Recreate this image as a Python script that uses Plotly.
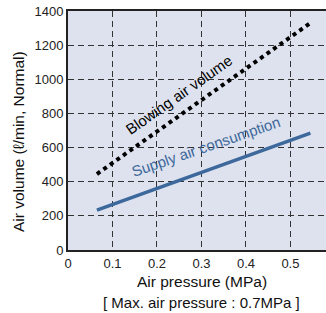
import plotly.graph_objects as go

pressure = [0.065, 0.545]
blowing_air_volume = [445, 1330]
supply_air_consumption = [234, 685]

x_ticks = [0, 0.1, 0.2, 0.3, 0.4, 0.5]
x_tick_labels = ["0", "0.1", "0.2", "0.3", "0.4", "0.5"]
y_ticks = [0, 200, 400, 600, 800, 1000, 1200, 1400]

blue = "#3d689b"
font = "Liberation Sans, Arial, sans-serif"

fig = go.Figure()
fig.add_trace(go.Scatter(x=pressure, y=blowing_air_volume, mode="lines",
                         line=dict(color="black", width=4, dash="dot"), showlegend=False))
fig.add_trace(go.Scatter(x=pressure, y=supply_air_consumption, mode="lines",
                         line=dict(color=blue, width=3.5), showlegend=False))

fig.update_layout(
    width=326, height=313,
    margin=dict(l=68, r=0, t=11, b=63, pad=0),
    paper_bgcolor="white", plot_bgcolor="#dde2ee",
    font=dict(family=font, size=13, color="#222"),
    xaxis=dict(range=[0, 0.58], tickvals=x_ticks, ticktext=x_tick_labels,
               showgrid=True, gridcolor="#333", gridwidth=1, griddash="6px,4px",
               showline=True, linecolor="#222", linewidth=2, mirror=True,
               zeroline=False, ticks="", tickfont=dict(size=13, color="#222")),
    yaxis=dict(range=[0, 1400], tickvals=y_ticks, ticklabeloverflow="allow",
               showgrid=True, gridcolor="#333", gridwidth=1, griddash="6px,4px",
               showline=True, linecolor="#222", linewidth=2,
               zeroline=False, ticks="", tickfont=dict(size=13, color="#222")),
    annotations=[
        dict(x=0.25, y=910, xref="x", yref="y", text="Blowing air volume", showarrow=False,
             textangle=-35, font=dict(size=15, color="black", family=font)),
        dict(x=0.31, y=605, xref="x", yref="y", text="Supply air consumption", showarrow=False,
             textangle=-19, font=dict(size=15, color=blue, family=font)),
        dict(x=202, y=281, xref="paper", yref="paper", text="Air pressure (MPa)", showarrow=False,
             font=dict(size=15.5, color="#111", family=font)),
        dict(x=201, y=302, xref="paper", yref="paper", text="[ Max. air pressure : 0.7MPa ]",
             showarrow=False, font=dict(size=15, color="#111", family=font)),
        dict(x=19, y=142, xref="paper", yref="paper", text="Air volume (ℓ/min, Normal)",
             showarrow=False, textangle=-90, font=dict(size=15.5, color="#111", family=font)),
    ],
)

# convert window-pixel positions of the title texts to paper coordinates
pw, ph = 326 - 68, 250 - 11
for a in fig.layout.annotations[2:]:
    a.x = (a.x - 68) / pw
    a.y = (250 - a.y) / ph
    a.xanchor = "center"
    a.yanchor = "middle"

# remove the default 8px page margin so the figure sits at the window origin
fig.write_html("out.html", config={"displayModeBar": False},
               post_script="document.body.style.margin='0';")
